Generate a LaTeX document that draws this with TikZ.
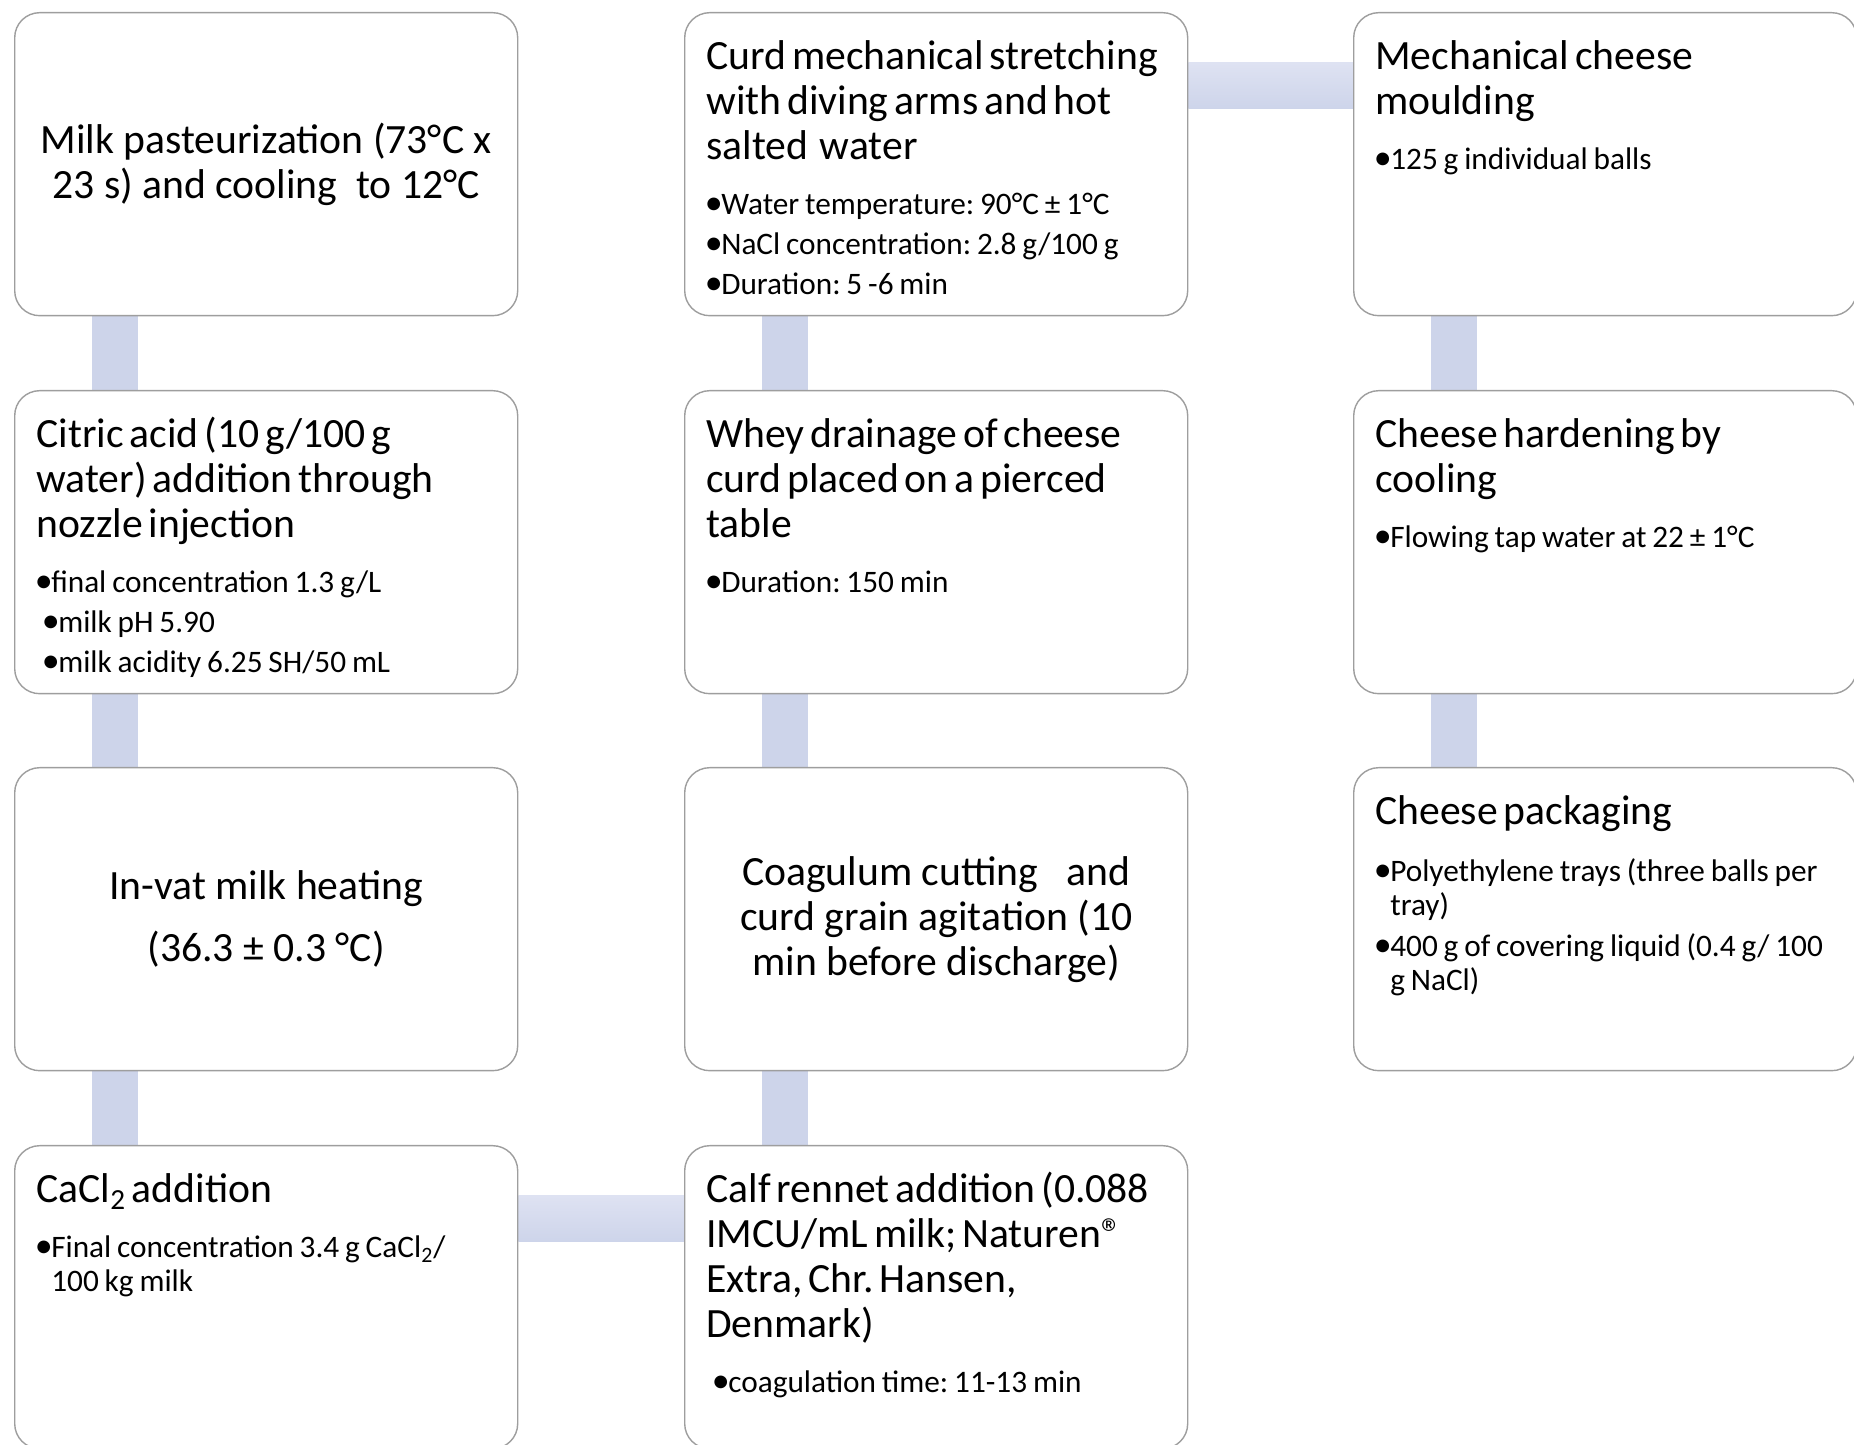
\documentclass[tikz,border=0pt]{standalone}
\usepackage{fontspec}
\setmainfont{Carlito}
\usetikzlibrary{backgrounds}

\definecolor{barblue}{RGB}{205,212,234}
\definecolor{barlight}{RGB}{222,226,242}
\definecolor{boxgray}{RGB}{158,158,158}

\frenchspacing
\newcommand\ttl{\fontsize{23.7pt}{25.6pt}\selectfont}
\newcommand\bul{\fontsize{17.8pt}{19.3pt}\selectfont}
% invisible struts keep the baseline distances fixed
\newcommand\updepth{\vrule width0pt height13pt}
\newcommand\downdepth{\vrule width0pt depth6.3pt}
\newcommand\bulstart{\downdepth\par\bul\parskip=3.4pt\vspace{8.3pt}}
\newcommand\itm[2][0pt]{\par\hangindent=8.5pt\hangafter=1\noindent\updepth\hspace*{#1}%
  \makebox[8.5pt][l]{\hspace*{-0.9pt}\scalebox{1.15}{•}}#2\downdepth\par}

\begin{document}
\begin{tikzpicture}[
    stepbox/.style={draw=boxgray, line width=0.8pt, fill=white, rounded corners=0.5cm,
      minimum width=10.06cm, minimum height=6.06cm, anchor=north west, inner sep=0pt},
    txt/.style={anchor=base west, inner sep=0pt, text width=9.5cm},
    ctxt/.style={align=center, inner sep=0pt, font=\ttl},
    vbar/.style={fill=barblue},
    hbar/.style={top color=barlight, bottom color=barblue}]

    \useasboundingbox (0,0) rectangle (37.08,28.9);

    % first column
    \node[stepbox] (pasteur) at (0.28,28.66) {};
    \node[stepbox] (citric)  at (0.28,21.1) {};
    \node[stepbox] (heating) at (0.28,13.56) {};
    \node[stepbox] (cacl)    at (0.28,6.0) {};
    % second column
    \node[stepbox] (stretch) at (13.68,28.66) {};
    \node[stepbox] (whey)    at (13.68,21.1) {};
    \node[stepbox] (cutting) at (13.68,13.56) {};
    \node[stepbox] (rennet)  at (13.68,6.0) {};
    % third column
    \node[stepbox] (mould)  at (27.06,28.66) {};
    \node[stepbox] (harden) at (27.06,21.1) {};
    \node[stepbox] (pack)   at (27.06,13.56) {};

    % texts
    \node[ctxt] (pasteur-t) at (pasteur.center) {Milk pasteurization (73°C x\\23 s) and cooling\ \ to 12°C};
    \node[txt] (citric-t) at ([xshift=0.44cm,yshift=-1.16cm]citric.north west) {\ttl Citric acid (10 g/100 g\\water) addition through\\nozzle injection\bulstart
      \itm{final concentration 1.3 g/L}
      \itm[4pt]{milk pH 5.90}
      \itm[4pt]{milk acidity 6.25 SH/50 mL}};
    \node[ctxt] (heating-t) at (heating.center) {In-vat milk heating\\[9.7pt](36.3 ± 0.3 °C)};
    \node[txt] (cacl-t) at ([xshift=0.44cm,yshift=-1.16cm]cacl.north west) {\ttl CaCl\textsubscript{2} addition\bulstart
      \itm{Final concentration 3.4 g CaCl\textsubscript{2}/\hfill\break 100 kg milk}};

    \node[txt] (stretch-t) at ([xshift=0.44cm,yshift=-1.16cm]stretch.north west) {\ttl Curd mechanical stretching\\with diving arms and hot\\salted\ \ water\bulstart
      \itm{Water temperature: 90°C ± 1°C}
      \itm{NaCl concentration: 2.8 g/100 g}
      \itm{Duration: 5 -6 min}};
    \node[txt] (whey-t) at ([xshift=0.44cm,yshift=-1.16cm]whey.north west) {\ttl Whey drainage of cheese\\curd placed on a pierced\\table\bulstart
      \itm{Duration: 150 min}};
    \node[ctxt] (cutting-t) at (cutting.center) {Coagulum cutting\ \ \ and\\curd grain agitation (10\\min before discharge)};
    \node[txt] (rennet-t) at ([xshift=0.44cm,yshift=-1.16cm]rennet.north west) {\ttl Calf rennet addition (0.088\\IMCU/mL milk; Naturen®\\Extra, Chr. Hansen,\\Denmark)\bulstart
      \itm[4pt]{coagulation time: 11-13 min}};

    \node[txt] (mould-t) at ([xshift=0.44cm,yshift=-1.16cm]mould.north west) {\ttl Mechanical cheese\\moulding\bulstart
      \itm{125 g individual balls}};
    \node[txt] (harden-t) at ([xshift=0.44cm,yshift=-1.16cm]harden.north west) {\ttl Cheese hardening by\\cooling\bulstart
      \itm{Flowing tap water at 22 ± 1°C}};
    \node[txt] (pack-t) at ([xshift=0.44cm,yshift=-1.16cm]pack.north west) {\ttl Cheese packaging\bulstart
      \itm{Polyethylene trays (three balls per\hfill\break tray)}
      \itm{400 g of covering liquid (0.4 g/ 100\hfill\break g NaCl)}};

    % connecting bars
    \begin{scope}[on background layer]
      \fill[vbar] ([xshift=1.56cm]pasteur.south west) rectangle ([xshift=2.48cm]citric.north west);
      \fill[vbar] ([xshift=1.56cm]citric.south west) rectangle ([xshift=2.48cm]heating.north west);
      \fill[vbar] ([xshift=1.56cm]heating.south west) rectangle ([xshift=2.48cm]cacl.north west);
      \shade[hbar] ([yshift=-1.02cm]cacl.north east) rectangle ([yshift=-1.94cm]rennet.north west);
      \fill[vbar] ([xshift=1.56cm]rennet.north west) rectangle ([xshift=2.48cm]cutting.south west);
      \fill[vbar] ([xshift=1.56cm]cutting.north west) rectangle ([xshift=2.48cm]whey.south west);
      \fill[vbar] ([xshift=1.56cm]whey.north west) rectangle ([xshift=2.48cm]stretch.south west);
      \shade[hbar] ([yshift=-1.02cm]stretch.north east) rectangle ([yshift=-1.94cm]mould.north west);
      \fill[vbar] ([xshift=1.56cm]mould.south west) rectangle ([xshift=2.48cm]harden.north west);
      \fill[vbar] ([xshift=1.56cm]harden.south west) rectangle ([xshift=2.48cm]pack.north west);
    \end{scope}
\end{tikzpicture}
\end{document}
